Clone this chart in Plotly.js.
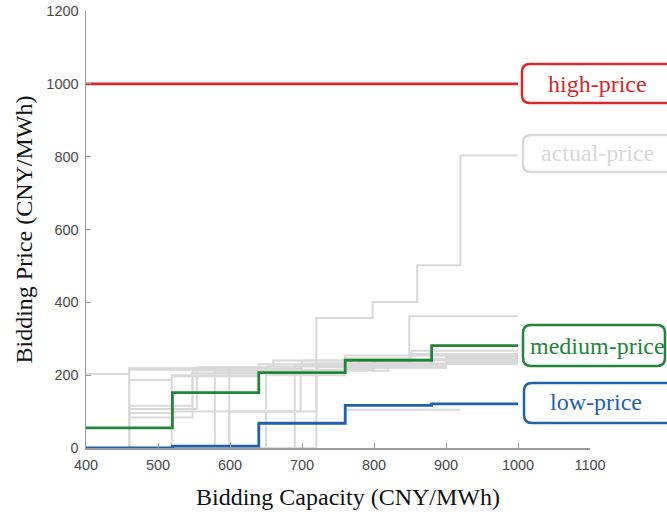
<!DOCTYPE html>
<html>
<head>
<meta charset="utf-8">
<script src="https://cdn.plot.ly/plotly-3.0.1.min.js"></script>
<style>html,body{margin:0;padding:0;background:#fff;}#chart{width:667px;height:517px;}</style>
</head>
<body>
<div id="chart"></div>
<script>
// ---- data ----
const capacityBreaks = [400, 520, 640, 760, 880, 1000];
const highPrice   = [1000, 1000, 1000, 1000, 1000, 1000];
const mediumPrice = [55, 152, 207, 241, 281, 281];
const lowPrice    = [0, 5, 68, 117, 121, 121];

const actualCapacity = [
  [400, 720, 798, 860, 920, 1000],
  [400, 460, 640, 760, 849, 1000],
  [400, 460, 548, 700, 880, 1000],
  [400, 460, 554, 690, 900, 1000],
  [400, 460, 548, 650, 780, 1000],
  [400, 460, 519, 640, 760, 900, 1000],
  [400, 519, 579, 720, 880, 1000],
  [400, 579, 720, 850, 1000],
  [400, 599, 698, 800, 1000],
  [400, 650, 760, 900, 1000],
  [400, 690, 820, 1000],
  [400, 520, 640, 760, 920],
  [400, 460, 519, 640, 800, 1000],
  [400, 460, 554, 660, 760, 1000],
  [400, 599, 700, 852, 1000]
];
const actualPrice = [
  [0, 357, 401, 502, 803, 803],
  [203, 215, 230, 246, 362, 362],
  [0, 116, 213, 232, 255, 255],
  [0, 107, 218, 226, 250, 250],
  [0, 84, 205, 224, 240, 240],
  [0, 96, 200, 212, 226, 236, 236],
  [0, 100, 208, 222, 245, 245],
  [0, 100, 232, 258, 258],
  [0, 100, 228, 243, 243],
  [0, 200, 220, 238, 238],
  [0, 212, 230, 230],
  [0, 5, 68, 105, 105],
  [0, 187, 197, 215, 232, 232],
  [0, 220, 222, 240, 254, 254],
  [0, 218, 240, 267, 267]
];

const labelNames = ['high-price', 'actual-price', 'medium-price', 'low-price'];
const xTitle = 'Bidding Capacity (CNY/MWh)';
const yTitle = 'Bidding Price (CNY/MWh)';

// ---- style ----
const RED = '#d42a2c', GREEN = '#23853a', BLUE = '#1f62a8', GRAY = '#d9d9d9';
const serif = 'Liberation Serif, Times New Roman, serif';

const traces = [];
actualCapacity.forEach((xs, i) => {
  traces.push({x: xs, y: actualPrice[i], type: 'scatter', mode: 'lines',
    line: {shape: 'hv', color: GRAY, width: 2}, name: 'actual-price'});
});
traces.push({x: capacityBreaks, y: highPrice, type: 'scatter', mode: 'lines',
  line: {shape: 'hv', color: RED, width: 2.8}, name: 'high-price'});
traces.push({x: capacityBreaks, y: mediumPrice, type: 'scatter', mode: 'lines',
  line: {shape: 'hv', color: GREEN, width: 2.8}, name: 'medium-price'});
traces.push({x: capacityBreaks, y: lowPrice, type: 'scatter', mode: 'lines',
  line: {shape: 'hv', color: BLUE, width: 2.8}, name: 'low-price'});

// pixel -> paper helpers for the label boxes
const L = 86, T = 11, W = 504, H = 437;
const px = p => (p - L) / W;
const py = p => (T + H - p) / H;
function roundBox(x0, x1, y0, y1, r) {
  const X0 = px(x0), X1 = px(x1), Y0 = py(y0), Y1 = py(y1);
  const rx = r / W, ry = r / H;
  return `M${X0 + rx},${Y0} L${X1 - rx},${Y0} Q${X1},${Y0} ${X1},${Y0 - ry} ` +
         `L${X1},${Y1 + ry} Q${X1},${Y1} ${X1 - rx},${Y1} L${X0 + rx},${Y1} ` +
         `Q${X0},${Y1} ${X0},${Y1 + ry} L${X0},${Y0 - ry} Q${X0},${Y0} ${X0 + rx},${Y0} Z`;
}
const boxes = [
  {b: [522, 674, 64, 103], c: RED},
  {b: [523, 674, 135, 172], c: GRAY},
  {b: [523, 665, 325, 366], c: GREEN},
  {b: [524, 674, 383, 423], c: BLUE}
];
const shapes = boxes.map(o => ({type: 'path', xref: 'paper', yref: 'paper',
  path: roundBox(o.b[0], o.b[1], o.b[2], o.b[3], 8),
  line: {color: o.c, width: 2.5}, fillcolor: 'rgba(255,255,255,0)'}));

const labelPos = [[597, 84], [597, 153], [597, 346], [596, 402]];
const annotations = labelNames.map((t, i) => ({
  text: t, xref: 'paper', yref: 'paper', x: px(labelPos[i][0]), y: py(labelPos[i][1]),
  xanchor: 'center', yanchor: 'middle', showarrow: false,
  font: {family: serif, size: 24, color: boxes[i].c}
}));
annotations.push({
  text: xTitle, xref: 'paper', yref: 'paper', x: px(348), y: py(497),
  xanchor: 'center', yanchor: 'middle', showarrow: false,
  font: {family: serif, size: 24, color: '#111'}
});

const layout = {
  width: 667, height: 517,
  margin: {l: L, r: 667 - L - W, t: T, b: 517 - T - H},
  paper_bgcolor: '#fff', plot_bgcolor: '#fff',
  showlegend: false,
  xaxis: {
    range: [400, 1100], tickvals: [400, 500, 600, 700, 800, 900, 1000, 1100],
    showgrid: false, zeroline: false, showline: true, linecolor: '#9a9a9a', linewidth: 1.5,
    ticks: 'inside', ticklen: 5, tickcolor: '#9a9a9a', ticklabelstandoff: 3,
    tickfont: {family: 'Liberation Sans, Arial, sans-serif', size: 14.5, color: '#4a4a4a'}
  },
  yaxis: {
    range: [0, 1200], tickvals: [0, 200, 400, 600, 800, 1000, 1200],
    showgrid: false, zeroline: false, showline: true, linecolor: '#9a9a9a', linewidth: 1.5,
    ticks: 'inside', ticklen: 5, tickcolor: '#9a9a9a', ticklabelstandoff: 3,
    tickfont: {family: 'Liberation Sans, Arial, sans-serif', size: 14.5, color: '#4a4a4a'},
    title: {text: yTitle, standoff: 7,
      font: {family: serif, size: 24, color: '#111'}}
  },
  shapes: shapes,
  annotations: annotations
};

Plotly.newPlot('chart', traces, layout, {displayModeBar: false, staticPlot: true});
</script>
</body>
</html>
